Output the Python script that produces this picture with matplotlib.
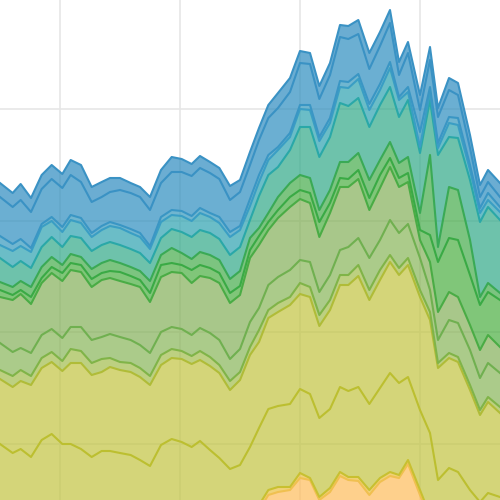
import numpy as np
import matplotlib
matplotlib.use("Agg")
import matplotlib.pyplot as plt
from matplotlib.ticker import MultipleLocator
from matplotlib.colors import to_rgba

# x positions (days)
days = [0, 38, 62, 93, 125, 155, 187, 212, 243, 275, 305, 330, 360, 392, 420, 450, 483,
        515, 545, 575, 600, 630, 658, 690, 720, 750, 777, 805, 834, 870, 900, 930, 958,
        990, 1020, 1045, 1075, 1108, 1140, 1170, 1197, 1224, 1260, 1290, 1314, 1347,
        1374, 1410, 1440, 1464, 1500]

# series values, bottom -> top
s0 = [30, 30, 30, 30, 30, 30, 30, 30, 30, 30, 30, 30, 30, 30, 30, 30, 30, 30, 30, 30, 30,
      30, 30, 30, 30, 30, 45, 60, 63, 65, 77, 75, 55, 63, 79, 75, 74, 60, 73, 79, 77, 91,
      60, 35, 25, 25, 25, 25, 25, 25, 25]
s1 = [5, 5, 5, 5, 5, 5, 5, 5, 5, 5, 5, 5, 5, 5, 5, 5, 5, 5, 5, 5, 5, 5, 5, 5, 5, 5, 5, 5,
      5, 3, 5, 2, 3, 4, 4, 3, 4, 5, 4, 4, 3, 4, 5, 5, 5, 5, 5, 5, 5, 5, 5]
s2 = [76, 67, 71, 63, 80, 86, 76, 76, 71, 63, 69, 69, 67, 65, 60, 54, 75, 81, 78, 73, 79,
      70, 62, 51, 55, 73, 77, 81, 81, 83, 84, 84, 79, 79, 85, 86, 90, 86, 90, 99, 92, 83,
      80, 82, 45, 57, 53, 35, 23, 32, 28]
s3 = [65, 66, 68, 72, 72, 72, 73, 81, 86, 82, 79, 84, 83, 83, 83, 81, 80, 81, 83, 83, 81,
      84, 85, 79, 85, 92, 86, 91, 94, 99, 95, 97, 92, 99, 102, 106, 111, 104, 108, 111,
      108, 112, 113, 113, 112, 110, 110, 100, 87, 91, 84]
s4 = [9, 11, 11, 9, 10, 10, 10, 14, 12, 12, 13, 9, 8, 9, 9, 9, 10, 9, 8, 8, 9, 9, 8, 9, 8,
      8, 12, 8, 9, 8, 11, 10, 11, 10, 10, 10, 11, 10, 10, 7, 7, 7, 7, 8, 5, 5, 5, 5, 5, 5, 6]
s5 = [27, 24, 22, 23, 23, 23, 23, 22, 24, 23, 22, 24, 25, 23, 23, 23, 23, 22, 22, 21, 23,
      24, 25, 22, 23, 25, 22, 25, 26, 27, 23, 25, 23, 25, 25, 28, 27, 32, 30, 35, 35, 34,
      32, 22, 23, 33, 34, 35, 32, 34, 34]
s6 = [46, 52, 54, 49, 52, 56, 57, 57, 55, 53, 57, 56, 56, 56, 58, 51, 55, 55, 56, 52, 52,
      55, 57, 56, 54, 64, 63, 55, 59, 63, 61, 59, 55, 62, 63, 60, 59, 48, 52, 53, 46, 42,
      18, 28, 28, 28, 26, 25, 28, 28, 26]
s7 = [7, 5, 4, 7, 5, 6, 8, 7, 7, 8, 7, 7, 9, 8, 7, 9, 12, 9, 8, 13, 11, 10, 10, 10, 9, 8,
      9, 8, 8, 10, 9, 10, 15, 10, 9, 8, 9, 12, 13, 9, 9, 9, 10, 27, 50, 54, 57, 50, 45,
      43, 47]
s8 = [8, 8, 9, 10, 11, 10, 8, 9, 8, 10, 10, 11, 9, 9, 9, 12, 10, 15, 12, 11, 13, 13, 13,
      14, 15, 12, 8, 9, 13, 14, 15, 15, 12, 13, 16, 17, 17, 18, 15, 16, 15, 16, 17, 80,
      15, 51, 50, 35, 8, 9, 7]
s9 = [24, 20, 20, 19, 20, 20, 18, 18, 19, 18, 18, 18, 18, 18, 18, 18, 17, 19, 21, 22, 22,
      22, 21, 24, 24, 18, 32, 38, 30, 33, 48, 51, 53, 53, 59, 56, 55, 53, 55, 55, 46, 57,
      60, 55, 92, 50, 52, 60, 75, 76, 73]
s10 = [13, 16, 15, 16, 20, 16, 15, 16, 15, 14, 15, 16, 17, 16, 16, 14, 16, 14, 16, 16, 17,
       16, 16, 18, 17, 14, 14, 15, 17, 13, 18, 17, 16, 14, 16, 18, 19, 17, 15, 19, 17, 8,
       6, 8, 7, 14, 13, 10, 9, 7, 8]
s11 = [9, 7, 7, 4, 3, 4, 5, 5, 5, 4, 4, 4, 3, 4, 4, 3, 5, 5, 5, 5, 5, 4, 6, 5, 4, 7, 7, 5,
       3, 4, 4, 5, 4, 5, 6, 6, 5, 6, 6, 6, 3, 5, 15, 5, 5, 6, 7, 5, 5, 7, 5]
s12 = [39, 37, 39, 36, 35, 38, 39, 40, 36, 31, 29, 30, 35, 36, 36, 36, 34, 38, 39, 40, 40,
       40, 38, 32, 34, 34, 35, 37, 39, 41, 42, 41, 38, 43, 44, 43, 40, 35, 38, 39, 22, 34,
       22, 27, 26, 27, 23, 17, 11, 11, 10]
s13 = [14, 14, 16, 14, 14, 14, 14, 15, 17, 15, 15, 14, 12, 10, 10, 13, 13, 15, 13, 12, 12,
       11, 11, 14, 12, 13, 12, 13, 15, 14, 12, 11, 13, 12, 12, 13, 14, 16, 14, 13, 13, 11,
       15, 13, 9, 12, 12, 13, 12, 12, 14]

series = [s0, s1, s2, s3, s4, s5, s6, s7, s8, s9, s10, s11, s12, s13]
colors = ["#febc5b", "#eabf3e", "#c2c441", "#c2c441", "#a2bc4c", "#88b558", "#83b058",
          "#4aae41", "#45ac4a", "#30a988", "#2da2b0", "#3397bc", "#2d8ebf", "#2c8bbf"]
line_colors = ["#f0c050", "#c8c030", "#bcbf30", "#b0bc38", "#80b448", "#70b050",
               "#4aac45", "#3aaa45", "#3aaa55", "#2aa8a8", "#3a9ec4", "#3a96c4",
               "#3a92c4", "#3a92c4"]

fig = plt.figure(figsize=(5, 5), dpi=100)
ax = fig.add_axes([0, 0, 1, 1])
ax.set_xlim(0, 1500)
ax.set_ylim(55, 555)
ax.set_xticks([180, 540, 900, 1260])
ax.yaxis.set_major_locator(MultipleLocator(111.5))
ax.grid(True, color="#e6e6e6", linewidth=1.2)
ax.set_axisbelow(True)
for sp in ax.spines.values():
    sp.set_visible(False)
ax.tick_params(length=0, labelbottom=False, labelleft=False)

ax.stackplot(days, *series, colors=[to_rgba(c, 0.7) for c in colors], linewidth=0)
tops = np.cumsum(np.array(series, dtype=float), axis=0)
for i in range(len(series)):
    ax.plot(days, tops[i], color=line_colors[i], linewidth=1.5, solid_joinstyle="round")

fig.savefig("out.png", dpi=100)
